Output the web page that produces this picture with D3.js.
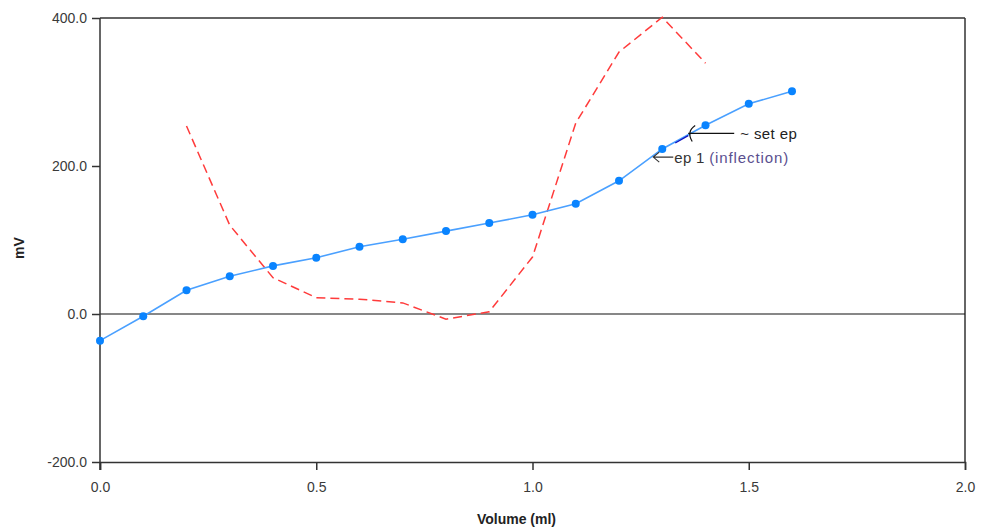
<!DOCTYPE html>
<html>
<head>
<meta charset="utf-8">
<script src="https://cdn.jsdelivr.net/npm/d3@7"></script>
<style>
  body { margin: 0; background: #fff; }
  text { font-family: Arial, "Liberation Sans", sans-serif; }
</style>
</head>
<body>
<script>
// titration curve: volume vs mV, plus the red dashed derivative-ish trace
const volume = [0.0, 0.1, 0.2, 0.3, 0.4, 0.5, 0.6, 0.7, 0.8, 0.9, 1.0, 1.1, 1.2, 1.3, 1.4, 1.5, 1.6]
const mv = [-36, -3, 32, 51, 65, 76, 91, 101, 112, 123, 134, 149, 180, 223, 255, 284, 301]

const dVolume = [0.2, 0.3, 0.4, 0.5, 0.6, 0.7, 0.8, 0.9, 1.0, 1.1, 1.2, 1.3, 1.4]
const dMv = [254, 120, 49, 22, 20, 15, -7, 3, 77, 258, 354, 401, 339]

const xTicks = [0, 0.5, 1.0, 1.5, 2.0]
const yTicks = [-200, 0, 200, 400]

const W = 990, H = 527
const margin = {top: 18, right: 25, bottom: 65, left: 100}

const svg = d3.select('body')
    .append('svg')
    .attr('width', W)
    .attr('height', H)

const x = d3.scaleLinear([0, 2], [margin.left, W - margin.right])
const y = d3.scaleLinear([-200, 400], [H - margin.bottom, margin.top])

const axisColor = '#333'
const fmt = d => d.toFixed(1)   // keeps the plain hyphen on -200.0

// frame top + right
svg.append('line')
    .attr('x1', x(0)).attr('x2', x(2))
    .attr('y1', y(400)).attr('y2', y(400))
    .attr('stroke', axisColor).attr('stroke-width', 1.5)
svg.append('line')
    .attr('x1', x(2)).attr('x2', x(2))
    .attr('y1', y(400)).attr('y2', y(-200))
    .attr('stroke', axisColor).attr('stroke-width', 1.5)

// zero line
svg.append('line')
    .attr('x1', x(0)).attr('x2', x(2))
    .attr('y1', y(0)).attr('y2', y(0))
    .attr('stroke', '#111').attr('stroke-width', 1.2)

const xAxis = svg.append('g')
    .attr('transform', `translate(0, ${y(-200)})`)
    .call(d3.axisBottom(x).tickValues(xTicks).tickFormat(fmt).tickSizeOuter(0).tickSize(8).tickPadding(12))
const yAxis = svg.append('g')
    .attr('transform', `translate(${x(0)}, 0)`)
    .call(d3.axisLeft(y).tickValues(yTicks).tickFormat(fmt).tickSizeOuter(0).tickSize(8).tickPadding(5))

;[xAxis, yAxis].forEach(g => {
    g.select('.domain').attr('stroke', axisColor).attr('stroke-width', 1.5)
    g.selectAll('.tick line').attr('stroke', axisColor).attr('stroke-width', 1.5)
    g.selectAll('.tick text').attr('fill', '#3a3a3a').style('font-size', '14px')
})
// left axis runs a bit below the bottom
yAxis.select('.domain').attr('d', `M0,${y(400)}V${y(-200) + 8}`)

svg.append('text')
    .attr('x', x(1) - 16)
    .attr('y', H - 3)
    .attr('text-anchor', 'middle')
    .style('font-size', '14px')
    .style('font-weight', 'bold')
    .attr('fill', '#222')
    .text('Volume (ml)')

svg.append('text')
    .attr('transform', `translate(24, ${y(100) + 8}) rotate(-90)`)
    .attr('text-anchor', 'middle')
    .style('font-size', '14px')
    .style('font-weight', 'bold')
    .attr('fill', '#222')
    .text('mV')

// red dashed trace
svg.append('path')
    .datum(dVolume.map((v, i) => [v, dMv[i]]))
    .attr('fill', 'none')
    .attr('stroke', '#ff3b3b')
    .attr('stroke-width', 1.5)
    .attr('stroke-dasharray', '9,5')
    .attr('d', d3.line().x(d => x(d[0])).y(d => y(d[1])))

// blue curve
const pts = volume.map((v, i) => [v, mv[i]])
svg.append('path')
    .datum(pts)
    .attr('fill', 'none')
    .attr('stroke', '#4aa0ff')
    .attr('stroke-width', 1.6)
    .attr('d', d3.line().x(d => x(d[0])).y(d => y(d[1])))

// darker segment near the set endpoint
svg.append('line')
    .attr('x1', x(1.33)).attr('y1', y(231))
    .attr('x2', x(1.36)).attr('y2', y(241))
    .attr('stroke', '#1010c0')
    .attr('stroke-width', 1.3)

svg.append('g')
    .selectAll('circle')
    .data(pts)
    .join('circle')
    .attr('cx', d => x(d[0]))
    .attr('cy', d => y(d[1]))
    .attr('r', 4)
    .attr('fill', '#0a84ff')

// annotations
const setX = x(1.36), setY = y(244)
svg.append('line')
    .attr('x1', setX).attr('x2', setX + 46)
    .attr('y1', setY).attr('y2', setY)
    .attr('stroke', '#111').attr('stroke-width', 1.2)
svg.append('path')
    .attr('d', `M${setX + 7},${setY - 8} Q${setX - 2},${setY - 2} ${setX + 4},${setY + 8}`)
    .attr('fill', 'none')
    .attr('stroke', '#111').attr('stroke-width', 1.2)
svg.append('text')
    .attr('x', setX + 52)
    .attr('y', setY + 6)
    .style('font-size', '15px')
    .style('letter-spacing', '0.4px')
    .attr('fill', '#222')
    .text('~ set ep')

const epX = x(1.3) - 9, epY = y(212)
svg.append('path')
    .attr('d', `M${epX + 20},${epY} H${epX} M${epX + 6},${epY - 5} L${epX},${epY} L${epX + 6},${epY + 5}`)
    .attr('fill', 'none')
    .attr('stroke', '#333').attr('stroke-width', 1.1)
svg.append('text')
    .attr('x', epX + 21)
    .attr('y', epY + 6)
    .style('font-size', '15px')
    .style('letter-spacing', '0.3px')
    .attr('fill', '#333')
    .text('ep 1 ')
    .append('tspan')
    .attr('fill', '#5a4f8f')
    .style('letter-spacing', '0.9px')
    .text('(inflection)')
</script>
</body>
</html>
